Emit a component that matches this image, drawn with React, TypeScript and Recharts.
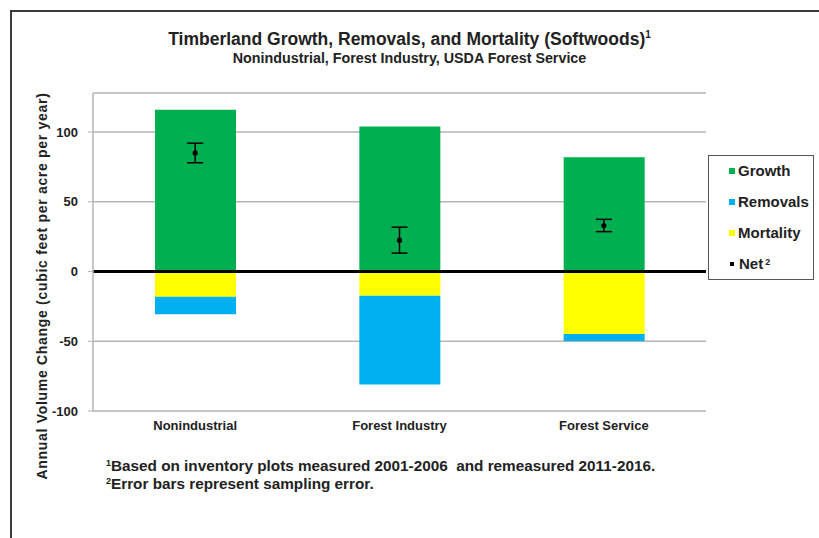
import React from "react";
import {
  ComposedChart,
  Bar,
  Line,
  ErrorBar,
  XAxis,
  YAxis,
  CartesianGrid,
  ReferenceLine,
} from "recharts";

// values (cubic feet per acre per year)
const categories = ["Nonindustrial", "Forest Industry", "Forest Service"];
const growth = [116, 104, 82];
const mortality = [-18, -17.3, -44.8];
const removals = [-12.6, -63.7, -5.1];
const net = [85, 22.5, 33];
const netError = [7, 9.3, 4.4];
const yTicks = [-100, -50, 0, 50, 100];

const GREEN = "#00B050";
const BLUE = "#00B0F0";
const YELLOW = "#FFFF00";
const FONT = "'Liberation Sans', Arial, sans-serif";

const chartData = categories.map((name, i) => ({
  name,
  growth: growth[i],
  mortality: mortality[i],
  removals: removals[i],
  net: net[i],
  err: netError[i],
}));

const legendItems = [
  { label: "Growth", color: GREEN },
  { label: "Removals", color: BLUE },
  { label: "Mortality", color: YELLOW },
];

const NetDot = (props: any) => {
  const { cx, cy } = props;
  if (cx == null || cy == null) return null;
  return <circle cx={cx} cy={cy} r={2.6} fill="#000" />;
};

const Sup = ({ children }: { children: React.ReactNode }) => (
  <span style={{ fontSize: 9, position: "relative", top: -5, lineHeight: 0 }}>{children}</span>
);

export default function App() {
  const textStyle: React.CSSProperties = {
    position: "absolute",
    fontFamily: FONT,
    fontWeight: "bold",
    color: "#222",
    whiteSpace: "nowrap",
  };

  return (
    <div
      style={{
        position: "absolute",
        left: 0,
        top: 0,
        width: 819,
        height: 538,
        background: "#fff",
        overflow: "hidden",
        fontFamily: FONT,
      }}
    >
      {/* frame */}
      <div
        style={{
          position: "absolute",
          left: 10,
          top: 10,
          width: 809,
          height: 528,
          borderTop: "2px solid #3a3a3a",
          borderLeft: "2px solid #3a3a3a",
          boxSizing: "border-box",
        }}
      />

      <div style={{ ...textStyle, left: 0, width: 819, top: 29, textAlign: "center", fontSize: 17.5 }}>
        Timberland Growth, Removals, and Mortality (Softwoods)
        <sup style={{ fontSize: 10 }}>1</sup>
      </div>
      <div style={{ ...textStyle, left: 0, width: 819, top: 50, textAlign: "center", fontSize: 14.3 }}>
        Nonindustrial, Forest Industry, USDA Forest Service
      </div>

      <div
        style={{
          ...textStyle,
          left: 42,
          top: 286,
          fontSize: 14,
          letterSpacing: 0.7,
          transform: "translate(-50%, -50%) rotate(-90deg)",
        }}
      >
        Annual Volume Change (cubic feet per acre per year)
      </div>

      <ComposedChart
        width={819}
        height={538}
        data={chartData}
        stackOffset="sign"
        margin={{ top: 93, right: 113, bottom: 97, left: 0 }}
        barSize={81}
        style={{ position: "absolute", left: 0, top: 0 }}
      >
        <CartesianGrid vertical={false} stroke="#b5b5b5" strokeWidth={1.5} />
        <XAxis
          dataKey="name"
          axisLine={false}
          tickLine={false}
          tick={{ fill: "#222", fontSize: 13, fontWeight: "bold", fontFamily: FONT }}
          tickMargin={4}
        />
        <YAxis
          width={93}
          domain={[-100, 128]}
          ticks={yTicks}
          allowDataOverflow
          axisLine={{ stroke: "#b5b5b5", strokeWidth: 1.5 }}
          tickLine={{ stroke: "#b5b5b5" }}
          tickSize={5}
          tickMargin={10}
          tick={{ fill: "#222", fontSize: 13, fontWeight: "bold", fontFamily: FONT }}
        />
        <Bar dataKey="growth" stackId="a" fill={GREEN} isAnimationActive={false} />
        <Bar dataKey="mortality" stackId="a" fill={YELLOW} isAnimationActive={false} />
        <Bar dataKey="removals" stackId="a" fill={BLUE} isAnimationActive={false} />
        <ReferenceLine y={0} stroke="#000" strokeWidth={3} />
        <Line
          dataKey="net"
          stroke="none"
          dot={<NetDot />}
          activeDot={false}
          isAnimationActive={false}
        >
          <ErrorBar dataKey="err" direction="y" width={8} stroke="#000" strokeWidth={1.5} />
        </Line>
      </ComposedChart>

      {/* legend */}
      <div
        style={{
          position: "absolute",
          left: 708,
          top: 155,
          width: 106,
          height: 125,
          border: "1.5px solid #555",
          boxSizing: "border-box",
          background: "#fff",
        }}
      />
      {legendItems.map((item, i) => (
        <div key={item.label} style={{ ...textStyle, left: 729, top: 162 + i * 31, fontSize: 15, display: "flex", alignItems: "center" }}>
          <span style={{ display: "inline-block", width: 6, height: 6, background: item.color, marginRight: 3 }} />
          {item.label}
        </div>
      ))}
      <div style={{ ...textStyle, left: 729, top: 255, fontSize: 15, display: "flex", alignItems: "center" }}>
        <span style={{ display: "inline-block", width: 4, height: 4, background: "#000", marginRight: 5, marginLeft: 1 }} />
        Net<sup style={{ fontSize: 9, marginLeft: 2, position: "relative", top: -2 }}>2</sup>
      </div>

      <div style={{ ...textStyle, left: 106, top: 457, fontSize: 15.3, lineHeight: "18px" }}>
        <Sup>1</Sup>Based on inventory plots measured 2001-2006&nbsp; and remeasured 2011-2016.
        <br />
        <Sup>2</Sup>Error bars represent sampling error.
      </div>
    </div>
  );
}
